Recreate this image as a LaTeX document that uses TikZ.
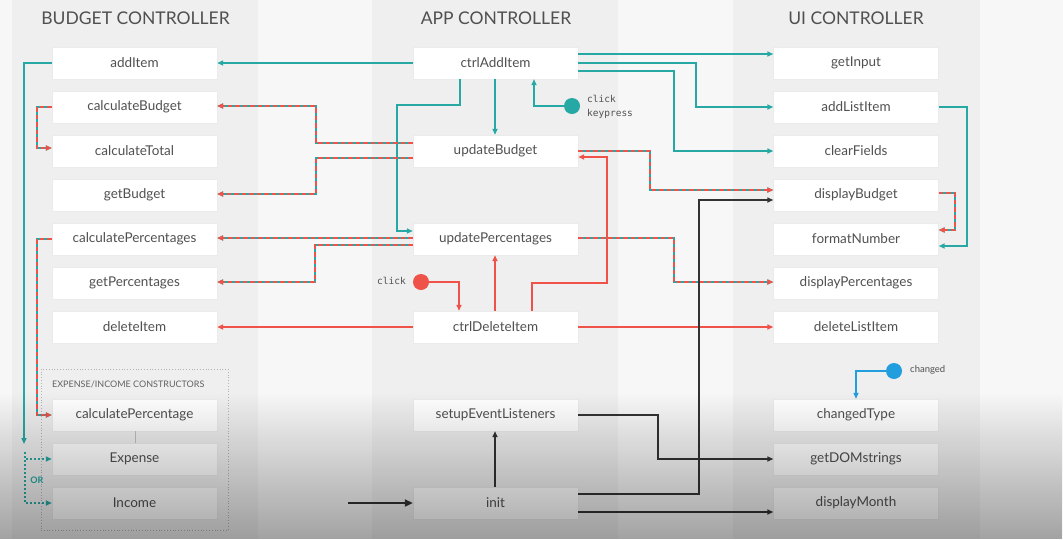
\documentclass[tikz,border=0pt]{standalone}
\usepackage{fontspec}
\setmainfont{Lato}
\newfontfamily\monofont{DejaVu Sans Mono}
\usetikzlibrary{arrows.meta,fadings}
\definecolor{tealc}{RGB}{38,168,164}
\definecolor{redc}{RGB}{238,82,72}
\definecolor{bluec}{RGB}{34,158,222}
\definecolor{darkc}{RGB}{51,51,51}
\definecolor{txtc}{RGB}{80,80,80}
\definecolor{bgc}{RGB}{247,247,247}
\definecolor{bandc}{RGB}{239,239,239}
\tikzfading[name=fadedown, top color=transparent!100, bottom color=transparent!0]
\tikzset{
  box/.style={draw=black!8, fill=white, minimum width=165pt, minimum height=32pt, inner sep=0pt, text=txtc, font=\fontsize{13.5}{15}\selectfont},
  hdr/.style={text=txtc, font=\fontsize{17.5}{20}\selectfont},
  >={Triangle[length=6pt,width=5pt]},
  tl/.style={draw=tealc, line width=1.8pt, ->},
  rl/.style={draw=redc, line width=1.8pt, ->},
  bl/.style={draw=darkc, line width=1.6pt, ->},
  dual/.style={draw=tealc, line width=2.4pt, ->, postaction={draw=redc, line width=2.4pt, dash pattern=on 4.5pt off 3pt}},
  dotl/.style={draw=tealc, line width=1.5pt, dash pattern=on 2pt off 2pt, ->},
  evt/.style={circle, minimum size=16pt, inner sep=0pt},
  lbl/.style={text=txtc, inner sep=0pt}
}
\begin{document}
\begin{tikzpicture}[x=1pt,y=-1pt]
\useasboundingbox (0,0) rectangle (1063,539);
% background
\fill[bgc] (0,0) rectangle (1063,539);
\fill[bandc] (12,0) rectangle (258,539);
\fill[bandc] (372,0) rectangle (618,539);
\fill[bandc] (733,0) rectangle (980,539);

% headers
\node[hdr] (hBudget) at (135.5,18) {BUDGET CONTROLLER};
\node[hdr] (hApp) at (496,18) {APP CONTROLLER};
\node[hdr] (hUI) at (856,18) {UI CONTROLLER};

% constructors frame
\node[draw=black!30, dotted, line width=0.8pt, minimum width=187pt, minimum height=161pt, inner sep=0pt] (ctorFrame) at (134.5,449.5) {};
\node[lbl, anchor=west, text=txtc!90, font=\fontsize{9}{11}\selectfont] (ctorLbl) at (52,384) {EXPENSE/INCOME CONSTRUCTORS};

% budget controller
\node[box] (addItem) at (134.5,63) {addItem};
\node[box] (calcBudget) at (134.5,107) {calculateBudget};
\node[box] (calcTotal) at (134.5,151) {calculateTotal};
\node[box] (getBudget) at (134.5,195) {getBudget};
\node[box] (calcPercs) at (134.5,239) {calculatePercentages};
\node[box] (getPercs) at (134.5,283) {getPercentages};
\node[box] (deleteItem) at (134.5,327) {deleteItem};
\node[box] (calcPerc) at (134.5,415) {calculatePercentage};
\node[box] (expense) at (134.5,459) {Expense};
\node[box] (income) at (134.5,503) {Income};

% app controller
\node[box] (ctrlAdd) at (495.5,63) {ctrlAddItem};
\node[box] (updBudget) at (495.5,151) {updateBudget};
\node[box] (updPercs) at (495.5,239) {updatePercentages};
\node[box] (ctrlDel) at (495.5,327) {ctrlDeleteItem};
\node[box] (setup) at (495.5,415) {setupEventListeners};
\node[box] (init) at (495.5,503) {init};

% ui controller
\node[box] (getInput) at (856,63) {getInput};
\node[box] (addList) at (856,107) {addListItem};
\node[box] (clearF) at (856,151) {clearFields};
\node[box] (dispBudget) at (856,195) {displayBudget};
\node[box] (fmtNum) at (856,239) {formatNumber};
\node[box] (dispPercs) at (856,283) {displayPercentages};
\node[box] (delList) at (856,327) {deleteListItem};
\node[box] (chType) at (856,415) {changedType};
\node[box] (getDOM) at (856,459) {getDOMstrings};
\node[box] (dispMonth) at (856,503) {displayMonth};

% events
\node[evt, fill=tealc] (evAdd) at (572,106) {};
\node[lbl, anchor=west, align=left, font=\monofont\fontsize{9.5}{14}\selectfont] (evAddTxt) at (587,107) {click\\keypress};
\node[evt, fill=redc] (evDel) at (421,282) {};
\node[lbl, anchor=east, font=\monofont\fontsize{9.5}{12}\selectfont] (evDelTxt) at (406,281) {click};
\node[evt, fill=bluec] (evCh) at (894,371) {};
\node[lbl, anchor=west, font=\fontsize{9.5}{12}\selectfont] (evChTxt) at (910,370) {changed};

% grey link in constructors
\draw[black!25, line width=1pt] ([xshift=0.5pt]calcPerc.south) -- ([xshift=0.5pt]expense.north);

% teal connectors
\draw[tl] (ctrlAdd.west) -- (addItem.east);
\coordinate (orTop) at (24,444);
\draw[tl] (addItem.west) -| (orTop);
\coordinate (orSplit) at (25,452);
\draw[dotl] (orSplit) |- (expense.west);
\draw[dotl] (orSplit) |- (income.west);
\node[lbl, text=tealc, font=\bfseries\fontsize{9}{11}\selectfont] (orTxt) at (37,480) {OR};
\coordinate (bendA) at (397,105);
\draw[tl] ([xshift=-35.5pt]ctrlAdd.south) |- (bendA) |- ([yshift=8pt]updPercs.west);
\draw[tl] ([xshift=-0.5pt]ctrlAdd.south) -- ([xshift=-0.5pt]updBudget.north);
\draw[tl] (evAdd.west) -| ([xshift=38.5pt]ctrlAdd.south);
\draw[tl] ([yshift=9pt]ctrlAdd.east) -- ([yshift=9pt]getInput.west);
\draw[tl] (ctrlAdd.east) -- ++(118,0) |- (addList.west);
\draw[tl] ([yshift=-8pt]ctrlAdd.east) -- ++(96,0) |- (clearF.west);
\draw[tl] (addList.east) -- ++(28,0) |- ([yshift=-7pt]fmtNum.east);

% dashed red/teal connectors
\draw[dual] ([yshift=8pt]updBudget.west) -- ++(-97,0) |- ([yshift=1pt]calcBudget.east);
\draw[dual] ([yshift=-7pt]updBudget.west) -- ++(-97,0) |- ([yshift=1pt]getBudget.east);
\draw[dual] ([yshift=1pt]updPercs.west) -- ([yshift=1pt]calcPercs.east);
\draw[dual] ([yshift=-6pt]updPercs.west) -- ++(-98,0) |- ([yshift=1pt]getPercs.east);
\draw[dual] (calcBudget.west) -- ++(-15,0) |- ([yshift=3pt]calcTotal.west);
\draw[dual] (calcPercs.west) -- ++(-15,0) |- (calcPerc.west);
\draw[dual] (updBudget.east) -- ++(72,0) |- ([yshift=5pt]dispBudget.west);
\draw[dual] ([yshift=1pt]updPercs.east) -- ++(96,0) |- ([yshift=1pt]dispPercs.west);
\draw[dual] ([yshift=2pt]dispBudget.east) -- ++(16,0) |- ([yshift=9pt]fmtNum.east);

% red connectors
\draw[rl] (ctrlDel.west) -- (deleteItem.east);
\draw[rl] (ctrlDel.east) -- (delList.west);
\draw[rl] ([xshift=-0.5pt]ctrlDel.north) -- ([xshift=-0.5pt]updPercs.south);
\coordinate (bendR) at (607,283);
\draw[rl] ([xshift=36.5pt]ctrlDel.north) |- (bendR) |- ([yshift=-6pt]updBudget.east);
\draw[rl] (evDel.east) -| ([xshift=-36.5pt]ctrlDel.north);

% blue connector
\draw[draw=bluec, line width=1.8pt, ->] (evCh.west) -| (chType.north);

% black connectors
\coordinate (initStart) at (348,503);
\draw[draw=darkc, line width=2.6pt, -{Triangle[length=8pt,width=7pt]}] (initStart) -- (init.west);
\draw[bl] ([xshift=-0.5pt]init.north) -- ([xshift=-0.5pt]setup.south);
\draw[bl] (setup.east) -- ++(80,0) |- (getDOM.west);
\draw[bl] ([yshift=9pt]init.east) -- ++(121,0) |- ([yshift=-5pt]dispBudget.west);
\draw[bl] ([yshift=-9pt]init.east) -- ([yshift=-9pt]dispMonth.west);

% bottom darkening
\fill[black, fill opacity=0.34, path fading=fadedown] (0,392) rectangle (1063,539);
\end{tikzpicture}
\end{document}
